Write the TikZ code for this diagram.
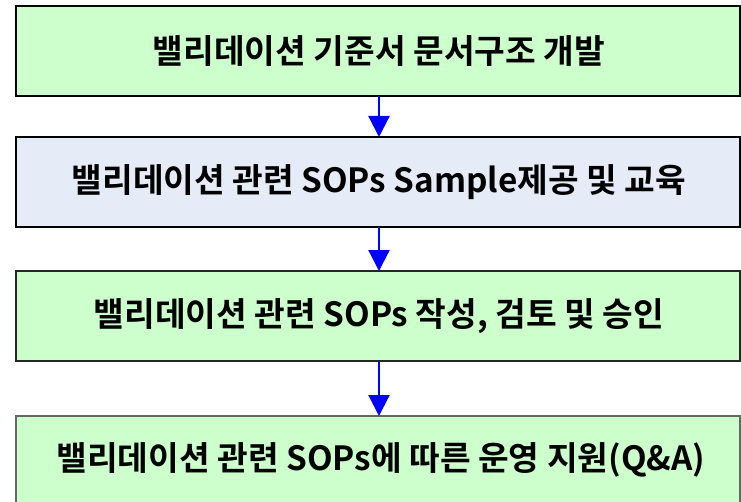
\documentclass[tikz,border=0pt]{standalone}
\usepackage{fontspec}
\newfontfamily\krfont{Noto Sans CJK KR}[BoldFont={* Bold}]
\usetikzlibrary{arrows.meta}
\definecolor{boxgreen}{HTML}{CCFFCC}
\definecolor{boxblue}{HTML}{E6ECF7}
\definecolor{arrowblue}{HTML}{0000FF}
\tikzset{
  stepbox/.style={draw=black, line width=1.125pt, rectangle},
  steptext/.style={font=\krfont\bfseries\fontsize{25pt}{30pt}\selectfont, text=black, inner sep=0pt},
  flowarrow/.style={draw=arrowblue, line width=1.65pt, -{Triangle[length=15.75pt,width=15.75pt]}, shorten >=0pt}
}
\begin{document}
\begin{tikzpicture}[x=0.75pt,y=-0.75pt]
\useasboundingbox (0,0) rectangle (741,502);
\filldraw[stepbox, fill=boxgreen] (16,6) rectangle (740,96);
\filldraw[stepbox, fill=boxblue] (16,137) rectangle (740,227);
\filldraw[stepbox, fill=boxgreen, draw=black!85] (16,271) rectangle (740,361);
\filldraw[stepbox, fill=boxgreen, draw=black!60] (16,416) rectangle (740,508);
\node[steptext] (t1) at (379,51) {밸리데이션 기준서 문서구조 개발};
\node[steptext] (t2) at (379,182) {밸리데이션 관련 SOPs Sample제공 및 교육};
\node[steptext] (t3) at (379,316) {밸리데이션 관련 SOPs 작성, 검토 및 승인};
\node[steptext] (t4) at (381,460) {밸리데이션 관련 SOPs에 따른 운영 지원(Q\&A)};
\coordinate (b1) at (379,96);
\coordinate (b2t) at (379,137);
\coordinate (b2) at (379,227);
\coordinate (b3t) at (379,271);
\coordinate (b3) at (379,361);
\coordinate (b4t) at (379,416);
\draw[flowarrow] (b1) -- (b2t);
\draw[flowarrow] (b2) -- (b3t);
\draw[flowarrow] (b3) -- (b4t);
\end{tikzpicture}
\end{document}
